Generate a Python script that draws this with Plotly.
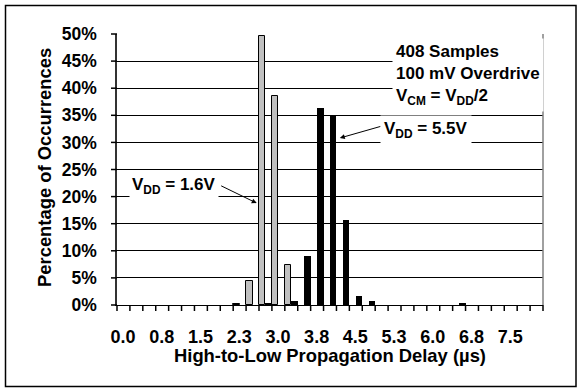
import plotly.graph_objects as go

# ---- data ----
delays = [0.0, 0.25, 0.5, 0.75, 1.0, 1.25, 1.5, 1.75, 2.0, 2.25, 2.5, 2.75, 3.0,
          3.25, 3.5, 3.75, 4.0, 4.25, 4.5, 4.75, 5.0, 5.25, 5.5, 5.75, 6.0,
          6.25, 6.5, 6.75, 7.0, 7.25, 7.5, 7.75, 8.0]
vdd_16 = [0, 0, 0, 0, 0, 0, 0, 0, 0, 0.25, 4.4, 49.7, 38.5,
          7.35, 0, 0, 0, 0, 0, 0, 0, 0, 0, 0, 0,
          0, 0, 0, 0, 0, 0, 0, 0]
vdd_55 = [0, 0, 0, 0, 0, 0, 0, 0, 0, 0, 0, 0.25, 0,
          0.74, 9.1, 36.3, 35.1, 15.7, 1.7, 0.74, 0, 0, 0, 0, 0,
          0, 0.25, 0, 0, 0, 0, 0, 0]
x_labels = ["0.0", "", "", "0.8", "", "", "1.5", "", "", "2.3", "", "", "3.0",
            "", "", "3.8", "", "", "4.5", "", "", "5.3", "", "", "6.0",
            "", "", "6.8", "", "", "7.5", "", ""]
y_ticks = [0, 5, 10, 15, 20, 25, 30, 35, 40, 45, 50]
y_labels = ["0%", "5%", "10%", "15%", "20%", "25%", "30%", "35%", "40%", "45%", "50%"]

# ---- layout geometry (pixels) ----
W, H = 577, 388
L, R, T, B = 117, 543, 34, 305
half = (delays[1] - delays[0]) / 2
cat_px = (R - L) / len(delays)
TICK = 6

def px(xp):
    return (xp - L) / (R - L)

def py(yp):
    return (B - yp) / (B - T)

# tick marks sit on category boundaries; labels shifted to category centres
bounds = [d - half for d in delays] + [delays[-1] + half]
bound_text = x_labels + [""]
x_rng = [bounds[0], bounds[-1]]
y_rng = [y_ticks[0], y_ticks[-1]]

FONT = "Liberation Sans, Arial, sans-serif"

fig = go.Figure()
fig.add_trace(go.Bar(x=delays, y=[v if v else None for v in vdd_16], name="VDD = 1.6V",
                     marker=dict(color="#C0C0C0", line=dict(color="#000000", width=1))))
fig.add_trace(go.Bar(x=delays, y=[v if v else None for v in vdd_55], name="VDD = 5.5V",
                     marker=dict(color="#000000", line=dict(color="#000000", width=0))))

fig.update_layout(
    width=W, height=H,
    margin=dict(l=L, r=W - R, t=T, b=H - B, pad=0),
    paper_bgcolor="white", plot_bgcolor="white",
    barmode="group", bargap=0, bargroupgap=0,
    showlegend=False,
    font=dict(family=FONT, size=17.5, color="black", weight="bold"),
)
fig.update_xaxes(
    range=x_rng, tickmode="array", tickvals=bounds, ticktext=bound_text,
    ticks="", ticklabelshift=int(round(cat_px / 2)), ticklabelstandoff=15,
    showgrid=False, zeroline=False,
    showline=True, linecolor="black", linewidth=1,
    tickfont=dict(family=FONT, size=18, color="black", weight="bold"),
)
fig.update_yaxes(
    range=y_rng, tickmode="array", tickvals=y_ticks, ticktext=y_labels,
    ticks="", ticklabelstandoff=15,
    showgrid=True, gridcolor="black", gridwidth=1, zeroline=False,
    showline=True, linecolor="#333333", linewidth=1.5,
    tickfont=dict(family=FONT, size=17.5, color="black", weight="bold"),
)

shapes = []
# x tick marks on category boundaries (paper coords so they are not clipped)
for b in bounds:
    xp = (b - x_rng[0]) / (x_rng[1] - x_rng[0])
    shapes.append(dict(type="line", xref="paper", yref="paper", x0=xp, x1=xp,
                       y0=0, y1=-TICK / (B - T), line=dict(color="black", width=1.5)))
# y tick marks
for v in y_ticks:
    yp = (v - y_rng[0]) / (y_rng[1] - y_rng[0])
    shapes.append(dict(type="line", xref="paper", yref="paper", x0=-TICK / (R - L), x1=0,
                       y0=yp, y1=yp, line=dict(color="black", width=1.5)))
# right border of plot area
shapes.append(dict(type="line", xref="paper", yref="paper", x0=1, x1=1, y0=0, y1=1,
                   line=dict(color="#808080", width=1.5)))
# outer chart frame
shapes.append(dict(type="rect", xref="paper", yref="paper",
                   x0=px(5.5), x1=px(576), y0=py(386.5), y1=py(5.5),
                   line=dict(color="black", width=1.5)))
fig.update_layout(shapes=shapes)

annos = []
# axis titles
annos.append(dict(text="High-to-Low Propagation Delay (µs)", xref="paper", yref="paper",
                  x=0.5, y=py(356), showarrow=False, xanchor="center", yanchor="middle",
                  font=dict(family=FONT, size=18.4, color="black", weight="bold")))
annos.append(dict(text="Percentage of Occurrences", xref="paper", yref="paper",
                  x=px(44), y=py(168), showarrow=False, textangle=-90,
                  xanchor="center", yanchor="middle",
                  font=dict(family=FONT, size=18.4, color="black", weight="bold")))
# info block
annos.append(dict(text="408 Samples<br>100 mV Overdrive<br>V<sub>CM</sub> = V<sub>DD</sub>/2",
                  xref="x", yref="y", x=5.2, y=42.4, showarrow=False, align="left",
                  xanchor="left", yanchor="middle", bgcolor="white", borderpad=3,
                  font=dict(family=FONT, size=17, color="black", weight="bold")))
# series labels
annos.append(dict(text="V<sub>DD</sub> = 5.5V", xref="x", yref="y", x=5.86, y=32.3,
                  showarrow=False, xanchor="center", yanchor="middle",
                  bgcolor="white", borderpad=3,
                  font=dict(family=FONT, size=17, color="black", weight="bold")))
annos.append(dict(text="V<sub>DD</sub> = 1.6V", xref="x", yref="y", x=0.98, y=21.9,
                  showarrow=False, xanchor="center", yanchor="middle",
                  bgcolor="white", borderpad=2,
                  font=dict(family=FONT, size=17, color="black", weight="bold")))
# arrows
annos.append(dict(text="", xref="x", yref="y", x=4.19, y=30.8, ax=42, ay=-12,
                  showarrow=True, arrowhead=2, arrowsize=1, arrowwidth=1, arrowcolor="black",
                  standoff=0, startstandoff=0))
annos.append(dict(text="", xref="x", yref="y", x=2.58, y=18.8, ax=-37, ay=-18,
                  showarrow=True, arrowhead=2, arrowsize=1, arrowwidth=1, arrowcolor="black",
                  standoff=0, startstandoff=0))
fig.update_layout(annotations=annos)

fig.write_html("out.html")
